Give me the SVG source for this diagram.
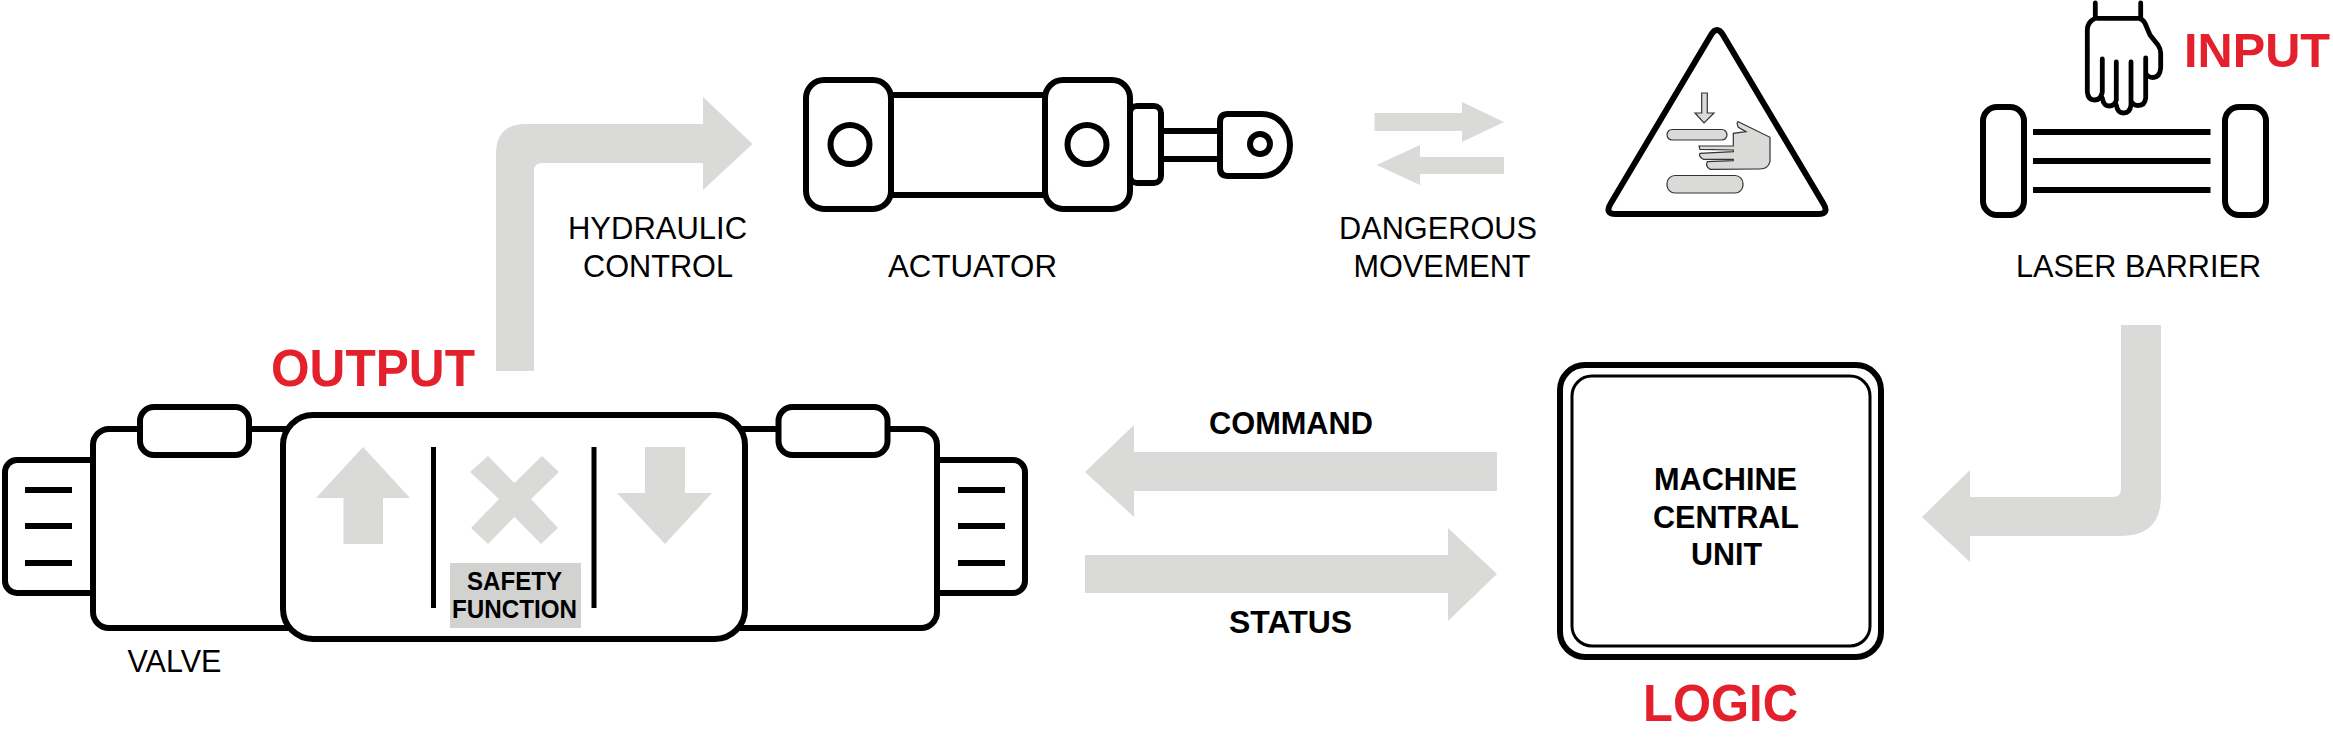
<svg xmlns="http://www.w3.org/2000/svg" width="2333" height="746" viewBox="0 0 2333 746">
<style>
.s{fill:#fff;stroke:#000;stroke-width:6}
.n{fill:none;stroke:#000;stroke-width:6}
.g{fill:#dadad8}
.d{fill:#dadad8;stroke:#333;stroke-width:1.2}
text{font-family:"Liberation Sans",Arial,sans-serif;fill:#000}
.l{font-size:32px}
.b{font-size:32px;font-weight:700}
.r{font-size:52px;font-weight:700;fill:#e3202b}
.f{font-size:26px;font-weight:700}
</style>
<rect width="2333" height="746" fill="#fff"/>
<g id="connectors">
<path class="g" d="M496 371V154Q496 124 526 124H703V97L752.500 144L703 190V163H542Q534 163 534 171V371H496Z"/>
<path class="g" d="M1374.500 113H1462V102L1504 122L1462 142V131H1374.500Z"/>
<path class="g" d="M1504 157H1420V145L1376.500 165L1420 185V174H1504Z"/>
<path class="g" d="M2161 325V496Q2161 536 2121 536H1970V562L1922 517L1970 470V497H2113Q2121 497 2121 489V325Z"/>
<path class="g" d="M1497 452H1134V425L1085 472L1134 517V491H1497Z"/>
<path class="g" d="M1085 555H1448V528L1497 574L1448 621V593H1085Z"/>
</g>
<g id="valve">
<rect class="s" x="5" y="460" width="100" height="133" rx="12"/>
<rect class="s" x="928" y="460" width="97" height="133" rx="12"/>
<rect class="s" x="93" y="429" width="240" height="199" rx="16"/>
<rect class="s" x="695" y="429" width="242" height="199" rx="16"/>
<rect class="s" x="140" y="407" width="109" height="48" rx="14"/>
<rect class="s" x="778.500" y="407" width="109" height="48" rx="14"/>
<rect class="s" x="283" y="415" width="462" height="224" rx="30"/>
<path class="n" d="M25 490H72M25 526H72M25 563H72M958 490H1005M958 526H1005M958 563H1005"/>
<path class="n" d="M433.500 447V608M594 447V608" style="stroke-width:5"/>
<path class="g" d="M363 447L410 498H383V544H343.500V498H316Z"/>
<path class="g" d="M488 456L514.500 483L542 456L559 472L531 499L558 528L541 544L514.500 517L488 544L471 528L499 499L470 472Z"/>
<path class="g" d="M645 447H685V493H712L665 544L617 493H645Z"/>
<rect x="450" y="563" width="131" height="65" fill="#d2d2d0"/>
<text class="f" x="467" y="590" textLength="95" lengthAdjust="spacingAndGlyphs">SAFETY</text>
<text class="f" x="452" y="618" textLength="125" lengthAdjust="spacingAndGlyphs">FUNCTION</text>
<text class="l" x="127.500" y="672" textLength="94" lengthAdjust="spacingAndGlyphs">VALVE</text>
<text class="r" x="271" y="386" textLength="204" lengthAdjust="spacingAndGlyphs">OUTPUT</text>
</g>
<g id="actuator">
<path class="n" d="M891 95H1045M891 195H1045M1161 131H1220M1161 159H1220"/>
<rect class="s" x="806" y="80" width="85" height="129" rx="18"/>
<rect class="s" x="1045" y="80" width="85" height="129" rx="18"/>
<rect class="s" x="1130" y="106" width="31" height="77" rx="7"/>
<path class="s" d="M1228 114H1262C1278 114 1290 128 1290 145C1290 162 1278 176 1262 176H1228Q1220 176 1220 168V122Q1220 114 1228 114Z"/>
<circle class="n" cx="850" cy="144.500" r="19.500"/>
<circle class="n" cx="1087" cy="144.500" r="19.500"/>
<circle class="n" cx="1260" cy="144" r="10"/>
<text class="l" x="568" y="239" textLength="179" lengthAdjust="spacingAndGlyphs">HYDRAULIC</text>
<text class="l" x="583" y="277" textLength="150" lengthAdjust="spacingAndGlyphs">CONTROL</text>
<text class="l" x="888" y="277" textLength="169" lengthAdjust="spacingAndGlyphs">ACTUATOR</text>
</g>
<g id="danger">
<path class="n" d="M1711 35Q1717 25 1723 35L1823 203Q1830 214 1818 214H1616Q1604 214 1611 203Z"/>
<path class="d" d="M1701.700 93H1707.300V113H1714L1704 123L1695 113H1701.700Z"/>
<rect class="d" x="1667" y="129.500" width="60" height="10.500" rx="5.200"/>
<rect class="d" x="1667" y="175.500" width="76" height="17.500" rx="8"/>
<path class="d" d="M1738.300 121.700L1770 137.300V161.700Q1768 169 1760 169L1710 169.300Q1705 166 1707.300 161.700L1733.300 160.700V159.300L1703.300 159.300Q1698 156 1700 153.300L1733.300 151.700V150L1700 149.300L1699 146H1733.300V133.300L1746 131.700L1738.300 127.300Q1736 122 1738.300 121.700Z"/>
<text class="l" x="1339" y="239" textLength="198" lengthAdjust="spacingAndGlyphs">DANGEROUS</text>
<text class="l" x="1353.500" y="277" textLength="177" lengthAdjust="spacingAndGlyphs">MOVEMENT</text>
</g>
<g id="laser-barrier">
<rect class="s" x="1983" y="107" width="41" height="108" rx="14"/>
<rect class="s" x="2225" y="107" width="41" height="108" rx="14"/>
<path class="n" d="M2033 132H2210.500M2033 161H2210.500M2033 190H2210.500"/>
<path class="n" style="stroke-width:4.800" stroke-linejoin="round" stroke-linecap="round" d="M2095.300 3V18M2140.700 3V18M2097 18.300H2139Q2143 19 2145 23.300L2150 35L2158 45Q2160.700 49 2160.700 53V68Q2160 77 2153 77.500Q2148 77.500 2145.700 73M2145.700 58V98Q2145 105.500 2138 105.500Q2133 105.500 2131 101M2131 62V105Q2130 113 2123.500 113Q2117.500 113 2116.300 105M2116.300 62V100Q2115 106 2109 106Q2103.500 106 2102.300 98M2102.300 59V92Q2101 100 2094.500 100Q2088 100 2087.300 92V30Q2087.300 22 2095 18.300"/>
<text class="r" x="2184" y="67" textLength="146" lengthAdjust="spacingAndGlyphs" style="font-size:48.500px">INPUT</text>
<text class="l" x="2016" y="277" textLength="245" lengthAdjust="spacingAndGlyphs">LASER BARRIER</text>
</g>
<g id="logic">
<rect class="s" x="1560" y="365" width="321" height="292" rx="25"/>
<rect x="1572" y="376" width="298" height="270" rx="20" fill="none" stroke="#000" stroke-width="3"/>
<text class="b" x="1654" y="490" textLength="143" lengthAdjust="spacingAndGlyphs">MACHINE</text>
<text class="b" x="1653" y="528" textLength="146" lengthAdjust="spacingAndGlyphs">CENTRAL</text>
<text class="b" x="1691" y="565" textLength="71" lengthAdjust="spacingAndGlyphs">UNIT</text>
<text class="r" x="1643" y="721" textLength="155" lengthAdjust="spacingAndGlyphs">LOGIC</text>
<text class="b" x="1209" y="434" textLength="164" lengthAdjust="spacingAndGlyphs">COMMAND</text>
<text class="b" x="1229" y="633" textLength="123" lengthAdjust="spacingAndGlyphs">STATUS</text>
</g>
</svg>
